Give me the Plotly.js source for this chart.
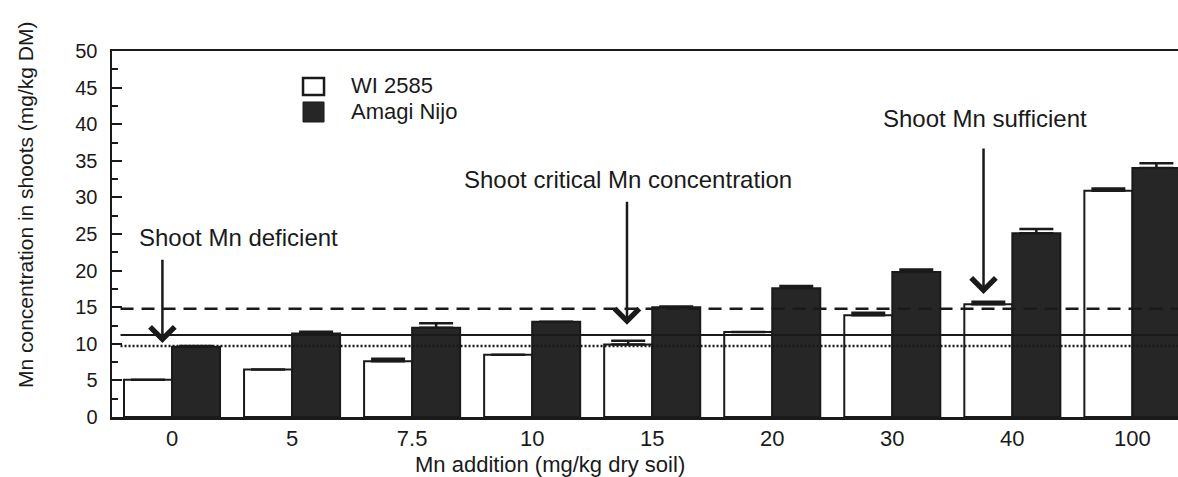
<!DOCTYPE html>
<html>
<head>
<meta charset="utf-8">
<script src="https://cdn.plot.ly/plotly-3.0.1.min.js"></script>
<style>
  html, body { margin: 0; padding: 0; background: #fff; overflow: hidden; }
  #chart { width: 1178px; height: 477px; }
</style>
</head>
<body>
<div id="chart"></div>
<script>
// Mn addition levels (mg/kg dry soil)
const categories = ['0', '5', '7.5', '10', '15', '20', '30', '40', '100'];

// Shoot Mn concentration (mg/kg DM) and upper standard errors
const wi2585 = [5.1, 6.5, 7.6, 8.5, 9.9, 11.6, 13.9, 15.4, 30.9];
const wi2585Err = [0, 0, 0.35, 0, 0.5, 0, 0.35, 0.35, 0.3];
const amagiNijo = [9.6, 11.4, 12.2, 13.0, 15.0, 17.6, 19.8, 25.1, 34.0];
const amagiNijoErr = [0.1, 0.25, 0.6, 0, 0.1, 0.3, 0.35, 0.6, 0.65];

// Reference concentrations (mg/kg DM)
const sufficientLevel = 14.8;
const criticalLevel = 11.2;
const deficientLevel = 9.7;

const FONT = 'Liberation Sans, Arial, Helvetica, sans-serif';
const INK = '#1a1a1a';

const traces = [
  {
    type: 'bar', name: 'WI 2585', x: categories.map((_, i) => i), y: wi2585,
    marker: { color: '#ffffff', line: { color: INK, width: 2 } },
    error_y: { type: 'data', symmetric: false, array: wi2585Err, arrayminus: wi2585.map(() => 0),
               color: INK, thickness: 2.5, width: 17 },
    showlegend: false
  },
  {
    type: 'bar', name: 'Amagi Nijo', x: categories.map((_, i) => i), y: amagiNijo,
    marker: { color: '#262626', line: { color: INK, width: 2 } },
    error_y: { type: 'data', symmetric: false, array: amagiNijoErr, arrayminus: amagiNijo.map(() => 0),
               color: INK, thickness: 2.5, width: 17 },
    showlegend: false
  }
];

function refLine(y, dash, width) {
  return { type: 'line', xref: 'paper', yref: 'y', x0: 0.008, x1: 1, y0: y, y1: y,
           line: { color: INK, width: width, dash: dash } };
}

function arrow(xCat, yTail, yTip) {
  return { x: xCat, y: yTip, ax: xCat, ay: yTail, xref: 'x', yref: 'y', axref: 'x', ayref: 'y',
           text: '', showarrow: true, arrowhead: 4, arrowsize: 1.9, arrowwidth: 2.5, arrowcolor: INK };
}

function label(text, xCat, yVal) {
  return { x: xCat, y: yVal, xref: 'x', yref: 'y', text: text, showarrow: false,
           xanchor: 'center', yanchor: 'middle', font: { family: FONT, size: 24, color: INK } };
}

const layout = {
  width: 1178, height: 477,
  margin: { l: 112, r: 0, t: 51, b: 60 },
  paper_bgcolor: '#ffffff', plot_bgcolor: '#ffffff',
  barmode: 'group', bargap: 0.2, bargroupgap: 0,
  font: { family: FONT, color: INK },
  xaxis: {
    type: 'linear', range: [-0.5, 8.38],
    tickmode: 'array', tickvals: categories.map((_, i) => i), ticktext: categories,
    ticks: '', showgrid: false, zeroline: false,
    showline: true, linecolor: INK, linewidth: 2.5, mirror: true,
    ticklabelstandoff: 0,
    tickfont: { family: FONT, size: 22, color: INK }
  },
  yaxis: {
    range: [0, 50], dtick: 5, tick0: 0,
    ticks: 'inside', ticklen: 10, tickwidth: 2, tickcolor: INK,
    minor: { dtick: 2.5, ticks: 'inside', ticklen: 6, tickwidth: 2, tickcolor: INK },
    showgrid: false, zeroline: false,
    showline: true, linecolor: INK, linewidth: 2.5,
    ticklabelstandoff: 8,
    tickfont: { family: FONT, size: 20, color: INK }
  },
  shapes: [
    refLine(sufficientLevel, '13px,8px', 2.5),
    refLine(criticalLevel, 'solid', 2),
    refLine(deficientLevel, '2px,2px', 2.5),
    // legend swatches
    { type: 'rect', xref: 'paper', yref: 'paper', x0: 0.1792, x1: 0.1989, y0: 0.8798, y1: 0.9262,
      fillcolor: '#ffffff', line: { color: INK, width: 2.5 } },
    { type: 'rect', xref: 'paper', yref: 'paper', x0: 0.1792, x1: 0.1989, y0: 0.806, y1: 0.8607,
      fillcolor: '#262626', line: { color: INK, width: 1 } }
  ],
  annotations: [
    label('Shoot Mn deficient', 0.55, 24.5),
    arrow(-0.08, 21.7, 10.1),
    label('Shoot critical Mn concentration', 3.8, 32.5),
    arrow(3.79, 29.6, 12.6),
    label('Shoot Mn sufficient', 6.77, 40.8),
    arrow(6.76, 36.9, 16.8),
    { xref: 'paper', yref: 'paper', x: 0.2223, y: 0.907, xanchor: 'left', yanchor: 'middle',
      text: 'WI 2585', showarrow: false, font: { family: FONT, size: 22, color: INK } },
    { xref: 'paper', yref: 'paper', x: 0.2223, y: 0.836, xanchor: 'left', yanchor: 'middle',
      text: 'Amagi Nijo', showarrow: false, font: { family: FONT, size: 22, color: INK } },
    { xref: 'paper', yref: 'paper', x: (550 - 112) / 1066, y: (417 - 464) / 366,
      xanchor: 'center', yanchor: 'middle', text: 'Mn addition (mg/kg dry soil)',
      showarrow: false, font: { family: FONT, size: 22, color: INK } },
    { xref: 'paper', yref: 'paper', x: (25 - 112) / 1066, y: (417 - 205) / 366,
      xanchor: 'center', yanchor: 'middle', textangle: -90,
      text: 'Mn concentration in shoots (mg/kg DM)',
      showarrow: false, font: { family: FONT, size: 21, color: INK } }
  ]
};

Plotly.newPlot('chart', traces, layout, { staticPlot: true, displayModeBar: false });
</script>
</body>
</html>
